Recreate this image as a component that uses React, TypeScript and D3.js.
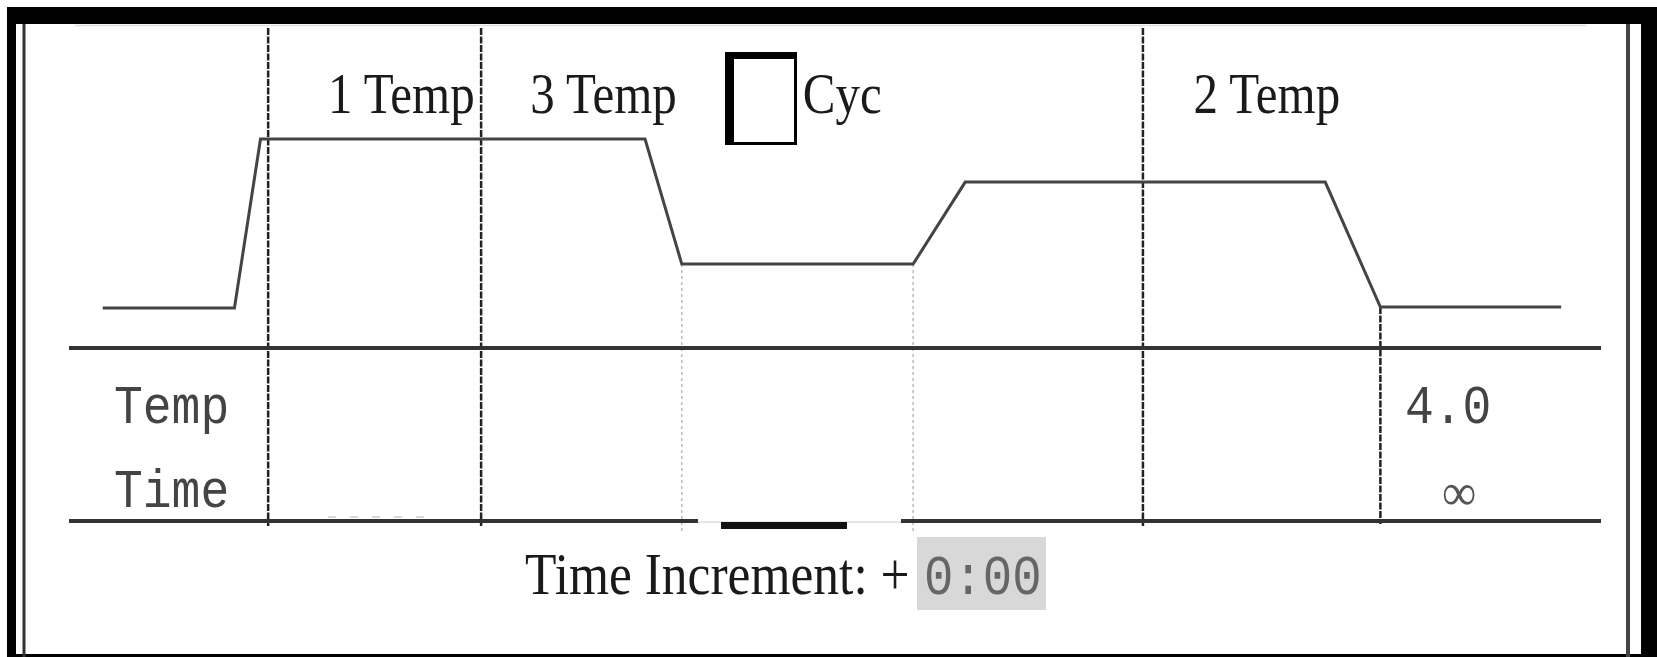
import { useRef, useEffect } from 'react';
import * as d3 from 'd3';

// schematic thermal profile, x in % of the table width, level in % of the swing
const profileX = [2.2, 10.8, 12.5, 37.6, 40.0, 55.1, 58.5, 82.0, 85.6, 97.4];
const profileLevel = [0, 0, 100, 100, 26, 26, 74.5, 74.5, 0.6, 0.6];
const stepDividers = [13.0, 26.9, 70.1];
const holdDivider = 85.6;
const cycleDividers = [40.0, 55.1];
const stepLabels = ['1 Temp', '3 Temp', 'Cyc', '2 Temp'];
const rowLabels = ['Temp', 'Time'];
const holdValues = ['4.0', '∞'];
const incrementLabel = 'Time Increment: +';
const incrementValue = '0:00';

// layout only
const labelX = [16.9, 30.1, 47.9, 73.4];

const SERIF = "'Liberation Serif', 'Times New Roman', serif";
const MONO = "'Liberation Mono', 'Courier New', monospace";

const ThermalProfile = () => {
  const svgRef = useRef<SVGSVGElement>(null);

  useEffect(() => {
    if (!svgRef.current) return;

    const width = 1657;
    const height = 657;
    const tableTop = 348;
    const tableBottom = 521;

    const svg = d3.select(svgRef.current).attr('width', width).attr('height', height);
    svg.selectAll('*').remove();

    const x = d3.scaleLinear().domain([0, 100]).range([69, 1601]);
    const y = d3.scaleLinear().domain([0, 100]).range([308, 139]);

    svg.append('rect').attr('width', width).attr('height', height).attr('fill', '#fff');

    // frame
    const frame = svg.append('g');
    frame.append('rect').attr('x', 7).attr('y', 7).attr('width', width - 7).attr('height', 17).attr('fill', '#000');
    frame.append('rect').attr('x', 7).attr('y', 7).attr('width', 9).attr('height', height - 7).attr('fill', '#000');
    frame.append('rect').attr('x', 1641).attr('y', 7).attr('width', 16).attr('height', height - 7).attr('fill', '#000');
    frame.append('rect').attr('x', 7).attr('y', 654).attr('width', width - 7).attr('height', 3).attr('fill', '#000');
    frame.append('line').attr('x1', 24).attr('x2', 24).attr('y1', 24).attr('y2', height).attr('stroke', '#333').attr('stroke-width', 3);
    frame.append('line').attr('x1', 1628).attr('x2', 1628).attr('y1', 24).attr('y2', height).attr('stroke', '#444').attr('stroke-width', 4);
    frame.append('line').attr('x1', 75).attr('x2', 1586).attr('y1', 25.5).attr('y2', 25.5).attr('stroke', '#ddd').attr('stroke-width', 1.5);

    // dividers
    svg.append('g')
      .selectAll('line')
      .data(stepDividers)
      .enter()
      .append('line')
      .attr('x1', (d) => x(d))
      .attr('x2', (d) => x(d))
      .attr('y1', 28)
      .attr('y2', tableBottom + 5)
      .attr('stroke', '#222')
      .attr('stroke-width', 2.5)
      .attr('stroke-dasharray', '7,1.5');

    svg.append('line')
      .attr('x1', x(holdDivider))
      .attr('x2', x(holdDivider))
      .attr('y1', y(profileLevel[profileLevel.length - 1]))
      .attr('y2', tableBottom + 3)
      .attr('stroke', '#222')
      .attr('stroke-width', 2.5)
      .attr('stroke-dasharray', '7,1.5');

    svg.append('g')
      .selectAll('line')
      .data(cycleDividers)
      .enter()
      .append('line')
      .attr('x1', (d) => x(d))
      .attr('x2', (d) => x(d))
      .attr('y1', y(profileLevel[4]))
      .attr('y2', tableBottom + 12)
      .attr('stroke', '#bbb')
      .attr('stroke-width', 1.5)
      .attr('stroke-dasharray', '3,3');

    // profile
    const line = d3
      .line<number>()
      .x((d) => x(d))
      .y((_, i) => y(profileLevel[i]));
    svg.append('path')
      .attr('d', line(profileX))
      .attr('fill', 'none')
      .attr('stroke', '#444')
      .attr('stroke-width', 3)
      .attr('stroke-linejoin', 'miter');

    // table rules
    svg.append('g')
      .selectAll('line')
      .data([tableTop, tableBottom])
      .enter()
      .append('line')
      .attr('x1', x(0))
      .attr('x2', x(100))
      .attr('y1', (d) => d)
      .attr('y2', (d) => d)
      .attr('stroke', '#333')
      .attr('stroke-width', 4);

    // selection gap under the cycle cell
    svg.append('rect').attr('x', 698).attr('y', tableBottom - 3).attr('width', 203).attr('height', 6).attr('fill', '#fff');
    svg.append('line').attr('x1', 698).attr('x2', 901).attr('y1', tableBottom + 1).attr('y2', tableBottom + 1).attr('stroke', '#ccc').attr('stroke-width', 1);
    svg.append('rect').attr('x', 721).attr('y', tableBottom + 1).attr('width', 126).attr('height', 7).attr('fill', '#111');
    svg.append('line').attr('x1', 328).attr('x2', 434).attr('y1', tableBottom - 4).attr('y2', tableBottom - 4).attr('stroke', '#ccc').attr('stroke-width', 1.5).attr('stroke-dasharray', '8,14');

    // step labels
    const labels = svg.append('g').attr('font-family', SERIF).attr('font-size', 49).attr('fill', '#1a1a1a');
    stepLabels.forEach((t, i) => {
      labels.append('text')
        .attr('transform', `translate(${x(labelX[i])},113) scale(1,1.15)`)
        .text(t);
    });

    // cycle box
    svg.append('rect').attr('x', 725).attr('y', 52).attr('width', 72).attr('height', 93).attr('fill', '#000');
    svg.append('rect').attr('x', 734).attr('y', 59).attr('width', 60).attr('height', 83).attr('fill', '#fff');

    // row labels and hold values
    const mono = svg.append('g').attr('font-family', MONO).attr('font-size', 48).attr('fill', '#444');
    rowLabels.forEach((t, i) => {
      mono.append('text')
        .attr('transform', `translate(114,${423 + i * 84}) scale(1,1.13)`)
        .text(t);
    });
    mono.append('text')
      .attr('transform', `translate(1405,423) scale(1,1.13)`)
      .text(holdValues[0]);
    svg.append('text')
      .attr('transform', `translate(1459,510) scale(1,1.1)`)
      .attr('text-anchor', 'middle')
      .attr('font-family', SERIF)
      .attr('font-size', 48)
      .attr('fill', '#555')
      .text(holdValues[1]);

    // increment
    svg.append('rect').attr('x', 917).attr('y', 537).attr('width', 129).attr('height', 73).attr('fill', '#d8d8d8');
    svg.append('text')
      .attr('transform', 'translate(525,594) scale(1,1.15)')
      .attr('font-family', SERIF)
      .attr('font-size', 51.5)
      .attr('fill', '#1a1a1a')
      .text(incrementLabel);
    svg.append('text')
      .attr('transform', 'translate(924,594) scale(1,1.13)')
      .attr('font-family', MONO)
      .attr('font-size', 49)
      .attr('fill', '#666')
      .text(incrementValue);
  }, []);

  return <svg ref={svgRef} style={{ position: 'absolute', left: 0, top: 0, display: 'block' }}></svg>;
};

export default function App() {
  return <ThermalProfile />;
}
